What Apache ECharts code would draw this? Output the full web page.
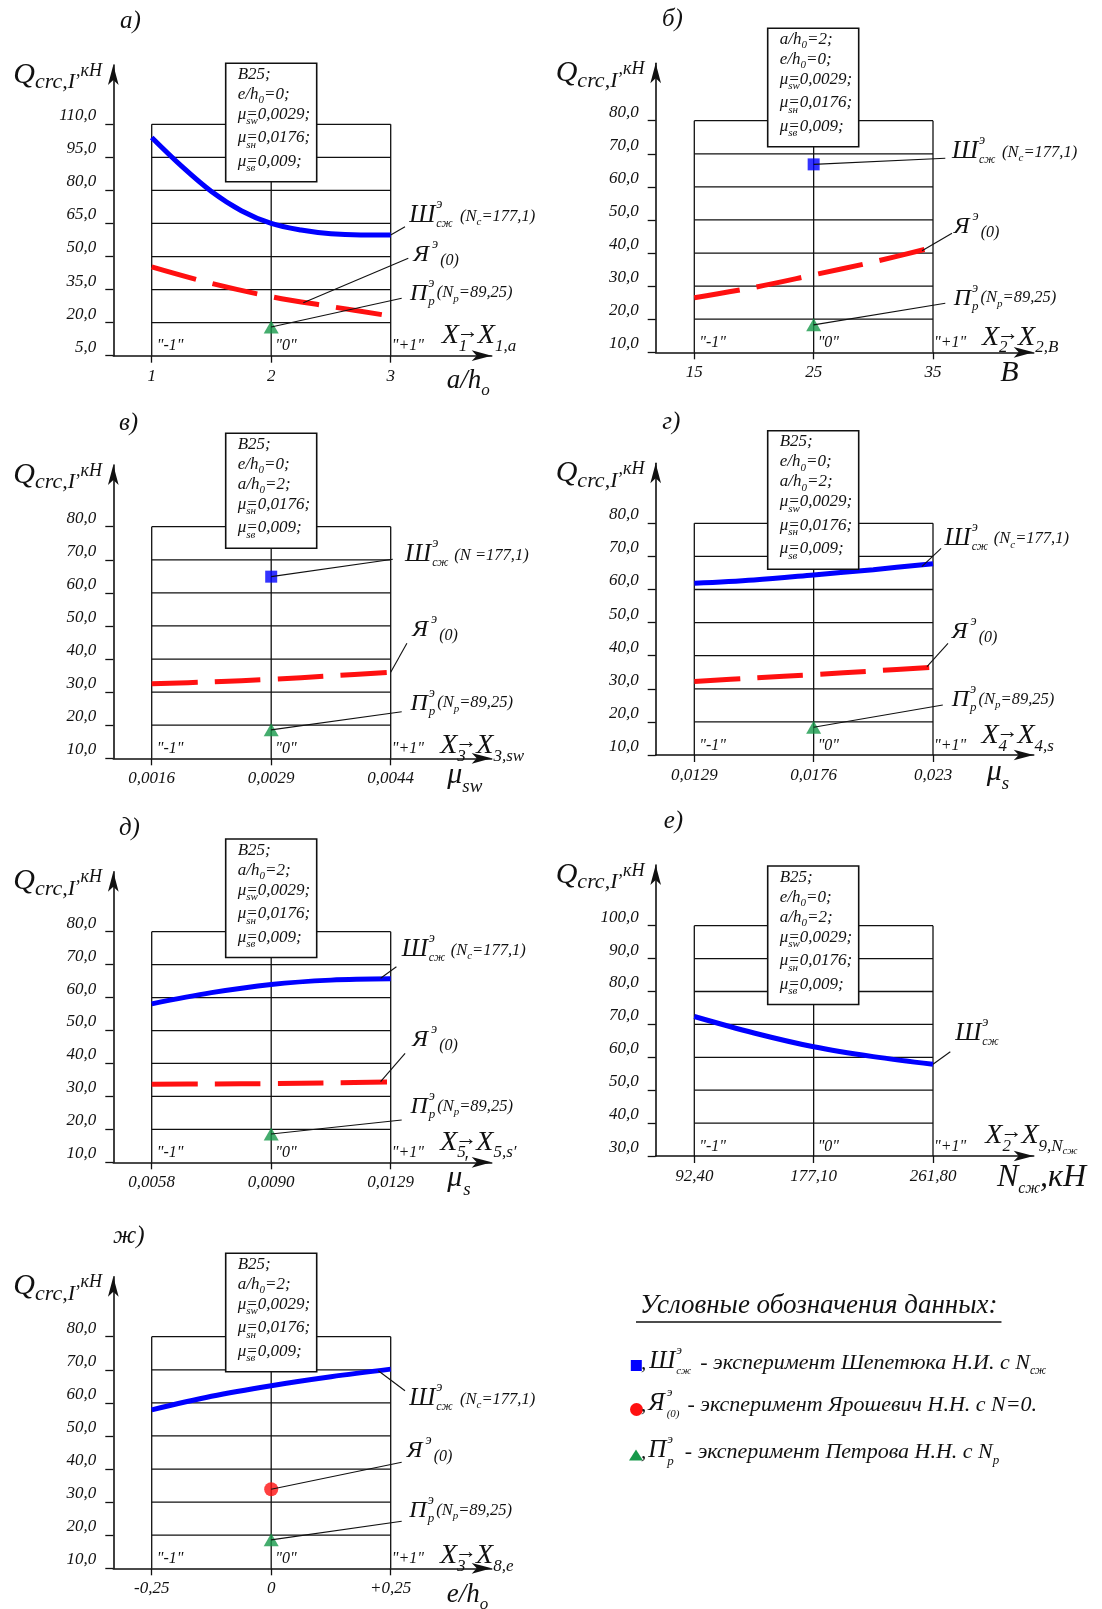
<!DOCTYPE html>
<html>
<head>
<meta charset="utf-8">
<script src="https://cdn.jsdelivr.net/npm/echarts@6/dist/echarts.min.js"></script>
<style>
  html, body { margin: 0; padding: 0; background: #fff; }
  #chart { width: 1102px; height: 1609px; }
</style>
</head>
<body>
<div id="chart"></div>
<script>
// ---- data -------------------------------------------------------------
// coded factor levels "-1", "0", "+1" and the coded positions of the readings
const levels = [-1, 0, 1];
const X5 = [-1, -0.5, 0, 0.5, 1];
const X9 = [-1, -0.75, -0.5, -0.25, 0, 0.25, 0.5, 0.75, 1];

// а) a/h0
const ticksA_x = ['1', '2', '3'];
const ticksA_y = [5, 20, 35, 50, 65, 80, 95, 110];
const shA = [104, 91, 79.5, 70.8, 65, 62, 60.3, 59.8, 59.8];
const yaA = [45.3, 37.8, 31.8, 27.3, 23];
const prA = 18;

// б) B
const ticksB_x = ['15', '25', '35'];
const ticksB_y = [10, 20, 30, 40, 50, 60, 70, 80];
const shB = 66.8;
const yaB = [26.5, 29.6, 33.4, 37.3, 41.7];
const prB = 18.3;

// в) μsw
const ticksC_x = ['0,0016', '0,0029', '0,0044'];
const ticksC_y = [10, 20, 30, 40, 50, 60, 70, 80];
const shC = 64.9;
const yaC = [32.5, 33.1, 33.9, 34.9, 36];
const prC = 18.6;

// г) μs
const ticksD_x = ['0,0129', '0,0176', '0,023'];
const ticksD_y = [10, 20, 30, 40, 50, 60, 70, 80];
const shD = [61.9, 62.9, 64.4, 66.0, 67.8];
const yaD = [32.2, 33.3, 34.3, 35.4, 36.5];
const prD = 18.4;

// д) μ's
const ticksE_x = ['0,0058', '0,0090', '0,0129'];
const ticksE_y = [10, 20, 30, 40, 50, 60, 70, 80];
const shE = [58.1, 61.5, 64, 65.3, 65.7];
const yaE = [33.7, 33.8, 33.9, 34.1, 34.4];
const prE = 18.6;

// е) Nсж
const ticksF_x = ['92,40', '177,10', '261,80'];
const ticksF_y = [30, 40, 50, 60, 70, 80, 90, 100];
const shF = [72.4, 67.4, 63.2, 60.2, 57.9];

// ж) e/h0
const ticksG_x = ['-0,25', '0', '+0,25'];
const ticksG_y = [10, 20, 30, 40, 50, 60, 70, 80];
const shG = [57.9, 62.0, 65.2, 67.9, 70.2];
const yaG = 33.9;
const prG = 18.6;

// fixed parameters listed in each panel's box
const infoA = ['B25', 'e0', 'msw', 'msn', 'msv'];
const infoB = ['a2', 'e0', 'msw', 'msn', 'msv'];
const infoC = ['B25', 'e0', 'a2', 'msn', 'msv'];
const infoD = ['B25', 'e0', 'a2', 'msw', 'msn', 'msv'];
const infoE = ['B25', 'a2', 'msw', 'msn', 'msv'];
const infoF = ['B25', 'e0', 'a2', 'msw', 'msn', 'msv'];
const infoG = ['B25', 'a2', 'msw', 'msn', 'msv'];

// ---- styling ----------------------------------------------------------
const FONT = '"Liberation Serif", "Times New Roman", serif';
const INK = '#111111';
const BLUE = '#0000ff';
const RED = '#ff1010';
const GREEN = '#17994a';
const ARROW = 20;

const infoLine = {
  B25: [['В25;', 17]],
  e0: [['e/h', 17], ['0', 11, 4], ['=0;', 17]],
  a2: [['a/h', 17], ['0', 11, 4], ['=2;', 17]],
  msw: [['μ', 17], ['sw', 11, 5], ['=0,0029;', 17, 0, true]],
  msn: [['μ', 17], ['sн', 11, 5], ['=0,0176;', 17, 0, true]],
  msv: [['μ', 17], ['sв', 11, 5], ['=0,009;', 17, 0, true]]
};

// two columns of panels: y-axis x, "-1" x, "+1" x, arrow tip x
const cols = [
  { axisX: 113.3, lo: 151.7, hi: 390.7, arrowX: 491.7 },
  { axisX: 655.7, lo: 694.3, hi: 933, arrowX: 1033.7 }
];

const panels = [
  { title: 'а)', tpos: [120, 29.5], col: 0, axisY: 355.7, boxTopY: 124.3, arrowTopY: 65, yMin: 5, yTop: 110,
    xt: ticksA_x, yt: ticksA_y, sh: { x: X9, y: shA }, ya: { x: X5, y: yaA }, pr: prA,
    box: [225.7, 63.3, infoA],
    shLab: [409.3, 224, 460, 'c'], yaLab: [413.3, 263.3], prLab: [410, 301.7],
    xname: [441.7, 345, '1', '1,a'],
    unit: [446.7, 390, [['a/h', 27], ['o', 17, 6]]],
    leaders: [['shEnd', [405, 226.7]], [[303.3, 302.7], [408.3, 258.3]], ['pr', [401.7, 298.3]]] },
  { title: 'б)', tpos: [662, 28.3], col: 1, axisY: 352.3, boxTopY: 120.7, arrowTopY: 63.3, yMin: 10, yTop: 80,
    xt: ticksB_x, yt: ticksB_y, sh: shB, ya: { x: X5, y: yaB }, pr: prB,
    box: [767.7, 28.3, infoB],
    shLab: [952, 160, 1002, 'c'], yaLab: [953.7, 235], prLab: [953.7, 306.7],
    xname: [982, 346.7, '2', '2,B'],
    unit: [1000.3, 383.3, [['B', 30]]],
    leaders: [['sh', [945.3, 158.3]], [[922, 250.7], [952, 233.3]], ['pr', [945.3, 303.3]]] },
  { title: 'в)', tpos: [118.9, 432], col: 0, axisY: 758.3, boxTopY: 526.7, arrowTopY: 465, yMin: 10, yTop: 80,
    xt: ticksC_x, yt: ticksC_y, sh: shC, ya: { x: X5, y: yaC }, pr: prC,
    box: [225.7, 433.3, infoC],
    shLab: [405.1, 563.3, 454.3, 'n'], yaLab: [412.2, 638.3], prLab: [410.4, 711.7],
    xname: [440.2, 755, '3', '3,sw'],
    unit: [447.2, 785, [['μ', 30], ['sw', 19, 8]]],
    leaders: [['sh', [392.8, 559.3]], ['yaEnd', [406.9, 643.3]], ['pr', [401.7, 711.7]]] },
  { title: 'г)', tpos: [662.3, 431], col: 1, axisY: 755, boxTopY: 523.3, arrowTopY: 463.3, yMin: 10, yTop: 80,
    xt: ticksD_x, yt: ticksD_y, sh: { x: X5, y: shD }, ya: { x: X5, y: yaD }, pr: prD,
    box: [767.7, 430.7, infoD],
    shLab: [944.6, 546.7, 993.8, 'c'], yaLab: [951.7, 640], prLab: [951.7, 708.3],
    xname: [981.4, 745, '4', '4,s'],
    unit: [986.7, 782, [['μ', 30], ['s', 19, 8]]],
    leaders: [[[921.8, 566.7], [941.1, 548.3]], [[927, 666.7], [948, 643.3]], ['pr', [942.8, 705]]] },
  { title: 'д)', tpos: [118.9, 836.5], col: 0, axisY: 1162.3, boxTopY: 931.7, arrowTopY: 871.7, yMin: 10, yTop: 80,
    xt: ticksE_x, yt: ticksE_y, sh: { x: X5, y: shE }, ya: { x: X5, y: yaE }, pr: prE,
    box: [225.7, 839, infoE],
    shLab: [401.7, 958.3, 450.7, 'c'], yaLab: [412.2, 1048.3], prLab: [410.4, 1115],
    xname: [440.2, 1151.7, '5', '5,s′'],
    unit: [447.2, 1188.3, [['μ', 30], ['′', 20, -17, false, 1], ['s', 19, 8, true]]],
    leaders: [[[380.6, 978.3], [396.4, 966.7]], [[380.6, 1081.7], [405.1, 1053.3]], ['pr', [401.7, 1120]]] },
  { title: 'е)', tpos: [663.7, 830], col: 1, axisY: 1156, boxTopY: 925.7, arrowTopY: 865, yMin: 30, yTop: 100,
    xt: ticksF_x, yt: ticksF_y, sh: { x: X5, y: shF }, ya: null, pr: null,
    box: [767.7, 866, infoF],
    shLab: [955.3, 1041.7, null, null], yaLab: null, prLab: null,
    xname: [985.3, 1145, '2', '9,N', 'сж'],
    unit: [997, 1188.3, [['N', 32], ['сж', 16, 6], [',кН', 32]]],
    leaders: [['shEnd', [950.3, 1051.7]]] },
  { title: 'ж)', tpos: [113, 1245], col: 0, axisY: 1568.3, boxTopY: 1336.7, arrowTopY: 1276.7, yMin: 10, yTop: 80,
    xt: ticksG_x, yt: ticksG_y, sh: { x: X5, y: shG }, ya: yaG, pr: prG,
    box: [225.7, 1253.3, infoG],
    shLab: [409.3, 1407, 460, 'c'], yaLab: [406.7, 1459], prLab: [409.3, 1519],
    xname: [440, 1565, '3', '8,e'],
    unit: [446.7, 1604, [['e/h', 27], ['o', 17, 6]]],
    leaders: [[[378.3, 1370.7], [405, 1390.7]], ['ya', [401.7, 1462.3]], ['pr', [401.7, 1521.3]]] }
];

// ---- text helpers -----------------------------------------------------
const mctx = document.createElement('canvas').getContext('2d');
function tw(t, s) { mctx.font = 'italic ' + s + 'px ' + FONT; return mctx.measureText(t).width; }

// lays out a run of italic pieces on a common baseline; a piece is
// [text, size, baselineShift, stackOnPrevious, dx]
function compose(x, base, parts, color, z) {
  const out = [];
  let start = x, end = x;
  parts.forEach(function (pp) {
    const t = pp[0], s = pp[1], dy = pp[2] || 0, stack = !!pp[3], dx = pp[4] || 0;
    const sx = (stack ? start : end) + dx;
    const w = tw(t, s);
    if (stack) { end = Math.max(end, sx + w); } else { start = sx; end = sx + w; }
    out.push({
      type: 'text', x: sx, y: base + dy - 0.34 * s, z: z || 30, silent: true,
      style: { text: t, font: 'italic ' + s + 'px ' + FONT, fill: color || INK, align: 'left', verticalAlign: 'middle' }
    });
  });
  return out;
}

// ---- chart option -----------------------------------------------------
const option = { animation: false, backgroundColor: '#fff', grid: [], xAxis: [], yAxis: [], series: [] };
const lineStyle = { color: INK, width: 1.6 };
const labelFont = { fontFamily: FONT, fontStyle: 'italic', fontSize: 17, color: INK };

panels.forEach(function (p, i) {
  const c = cols[p.col];
  const unit = (c.hi - c.lo) / 2;
  const right = c.arrowX;                 // the arrow tip sits at the axis end
  const xMin = -1 - (c.lo - c.axisX) / unit;
  const xMax = 1 + (right - c.hi) / unit;
  const top = p.arrowTopY;
  const yMax = p.yMin + (p.yTop - p.yMin) * (p.axisY - top) / (p.axisY - p.boxTopY);

  option.grid.push({ left: c.axisX, top: top, width: right - c.axisX, height: p.axisY - top, containLabel: false });
  option.xAxis.push({
    gridIndex: i, type: 'value', min: xMin, max: xMax, position: 'bottom',
    axisLine: { show: true, onZero: false, lineStyle: lineStyle, symbol: ['none', 'arrow'], symbolSize: [8, ARROW] },
    axisTick: { show: true, customValues: levels, length: 7, inside: false, lineStyle: { color: INK, width: 1.3 } },
    axisLabel: Object.assign({ customValues: levels, margin: 12,
      formatter: function (v) { return p.xt[levels.indexOf(Math.round(v))] || ''; } }, labelFont),
    splitLine: { show: false }
  });
  option.yAxis.push({
    gridIndex: i, type: 'value', min: p.yMin, max: yMax,
    axisLine: { show: true, onZero: false, lineStyle: lineStyle, symbol: ['none', 'arrow'], symbolSize: [8, ARROW] },
    axisTick: { show: true, customValues: p.yt, length: 8, inside: false, lineStyle: { color: INK, width: 1.3 } },
    axisLabel: Object.assign({ customValues: p.yt, margin: 17, verticalAlign: 'bottom',
      formatter: function (v) { return v.toFixed(1).replace('.', ','); } }, labelFont),
    splitLine: { show: false }
  });

  // box of grid lines between the "-1" and "+1" levels
  const segs = [];
  p.yt.filter(function (v) { return v > p.yMin; }).forEach(function (v) { segs.push([-1, v, 1, v]); });
  levels.forEach(function (l) { segs.push([l, p.yMin, l, p.yTop]); });
  option.series.push({
    type: 'custom', xAxisIndex: i, yAxisIndex: i, data: segs, silent: true, z: 1, clip: false,
    encode: { x: [0, 2], y: [1, 3] },
    renderItem: function (params, api) {
      const a = api.coord([api.value(0), api.value(1)]);
      const b = api.coord([api.value(2), api.value(3)]);
      return { type: 'line', shape: { x1: a[0], y1: a[1], x2: b[0], y2: b[1] }, style: { stroke: INK, lineWidth: 1.3 } };
    }
  });

  const pairs = function (s) { return s.x.map(function (x, k) { return [x, s.y[k]]; }); };

  if (p.sh && typeof p.sh === 'object') {
    option.series.push({ type: 'line', name: 'Шсж', xAxisIndex: i, yAxisIndex: i, data: pairs(p.sh), smooth: 0.35,
      symbol: 'none', lineStyle: { color: BLUE, width: 5 }, z: 3, silent: true });
  } else if (p.sh != null) {
    option.series.push({ type: 'scatter', name: 'Шсж', xAxisIndex: i, yAxisIndex: i, data: [[0, p.sh]],
      symbol: 'rect', symbolSize: 12, itemStyle: { color: BLUE }, z: 5, silent: true });
  }
  if (p.ya && typeof p.ya === 'object') {
    option.series.push({ type: 'line', name: 'Я(0)', xAxisIndex: i, yAxisIndex: i, data: pairs(p.ya), smooth: 0.35,
      symbol: 'none', lineStyle: { color: RED, width: 5, type: [46, 17] }, z: 3, silent: true });
  } else if (p.ya != null) {
    option.series.push({ type: 'scatter', name: 'Я(0)', xAxisIndex: i, yAxisIndex: i, data: [[0, p.ya]],
      symbol: 'circle', symbolSize: 14, itemStyle: { color: RED }, z: 5, silent: true });
  }
  if (p.pr != null) {
    option.series.push({ type: 'scatter', name: 'Пр', xAxisIndex: i, yAxisIndex: i, data: [[0, p.pr]],
      symbol: 'triangle', symbolSize: [15, 13], itemStyle: { color: GREEN }, z: 5, silent: true });
  }
});

const chart = echarts.init(document.getElementById('chart'), null, { renderer: 'canvas' });
chart.setOption(option);

// ---- annotations ------------------------------------------------------
const g = [];
panels.forEach(function (p, i) {
  const c = cols[p.col];
  const toPx = function (v) { return chart.convertToPixel({ gridIndex: i }, v); };

  // panel letter
  g.push.apply(g, compose(p.tpos[0], p.tpos[1], [[p.title, 25]]));

  // y axis name Q_crc,I , кН
  g.push.apply(g, compose(c.axisX - 100, p.arrowTopY + 20,
    [['Q', 30], ['crc,I', 22, 5], [',кН', 18, -8, false, 1]]));

  // level marks inside the box
  const tags = ['"-1"', '"0"', '"+1"'];
  const tagDx = [5, 4, 1];
  levels.forEach(function (l, k) {
    const pt = toPx([l, p.yMin]);
    g.push.apply(g, compose(pt[0] + tagDx[k], pt[1] - 4, [[tags[k], 16]]));
  });

  // info box
  const bx = p.box[0], by = p.box[1], lines = p.box[2];
  let base = by + 17;
  const txt = [];
  lines.forEach(function (key, k) {
    txt.push.apply(txt, compose(bx + 12, base, infoLine[key], INK, 31));
    if (k < lines.length - 1) base += (key.charAt(0) === 'm') ? 23.5 : 20;
  });
  g.push({ type: 'rect', shape: { x: bx, y: by, width: 91, height: base + 14.5 - by }, z: 29, silent: true,
    style: { fill: '#fff', stroke: INK, lineWidth: 1.6 } });
  g.push.apply(g, txt);

  // series labels
  if (p.shLab) {
    g.push.apply(g, compose(p.shLab[0], p.shLab[1],
      [['Ш', 25], ['э', 14, -15, false, 1], ['сж', 12, 4, true]]));
    if (p.shLab[3] === 'c') {
      g.push.apply(g, compose(p.shLab[2], p.shLab[1] - 2, [['(N', 16.5], ['c', 11, 4], ['=177,1)', 16.5]]));
    } else if (p.shLab[3] === 'n') {
      g.push.apply(g, compose(p.shLab[2], p.shLab[1] - 2, [['(N =177,1)', 16.5]]));
    }
  }
  if (p.yaLab) {
    g.push.apply(g, compose(p.yaLab[0], p.yaLab[1],
      [['Я', 24], ['э', 14, -14, false, 3], ['(0)', 16, 3, false, 2]]));
  }
  if (p.prLab) {
    g.push.apply(g, compose(p.prLab[0], p.prLab[1],
      [['П', 24], ['э', 14, -14, false, 1], ['p', 13, 4, true], ['(N', 16.5, -3, false, 2], ['p', 11, 1], ['=89,25)', 16.5, -3]]));
  }

  // factor name X_k → X_k,…
  const xn = p.xname;
  const xparts = [['X', 28], [xn[2], 17, 7], ['→', 22, -5, true, -2], ['X', 28, 0, false, -1], [xn[3], 17, 7]];
  if (xn[4]) xparts.push([xn[4], 11, 10]);
  g.push.apply(g, compose(xn[0], xn[1], xparts));

  // axis variable
  g.push.apply(g, compose(p.unit[0], p.unit[1], p.unit[2]));

  // leader lines
  p.leaders.forEach(function (ld) {
    let a = ld[0];
    if (a === 'shEnd') a = toPx([1, p.sh.y[p.sh.y.length - 1]]);
    else if (a === 'yaEnd') a = toPx([1, p.ya.y[p.ya.y.length - 1]]);
    else if (a === 'sh') a = toPx([0, p.sh]);
    else if (a === 'ya') a = toPx([0, p.ya]);
    else if (a === 'pr') a = toPx([0, p.pr]);
    g.push({ type: 'line', z: 6, silent: true, shape: { x1: a[0], y1: a[1], x2: ld[1][0], y2: ld[1][1] },
      style: { stroke: INK, lineWidth: 1.1 } });
  });
});

// ---- key of the data sources -----------------------------------------
const legendTitle = 'Условные обозначения данных:';
g.push.apply(g, compose(640, 1315, [[legendTitle, 27]]));
g.push({ type: 'line', z: 30, silent: true, shape: { x1: 636, y1: 1322, x2: 644 + tw(legendTitle, 27), y2: 1322 },
  style: { stroke: INK, lineWidth: 1.6 } });

g.push({ type: 'rect', z: 30, silent: true, shape: { x: 630.8, y: 1360, width: 11, height: 11 }, style: { fill: BLUE } });
g.push.apply(g, compose(641, 1371, [[',', 21], ['Ш', 25, -1, false, 3], ['э', 13, -16, false, 1], ['сж', 11, 4, true],
  ['- эксперимент Шепетюка Н.И. с N', 22, 0, false, 9], ['сж', 12, 4]]));

g.push({ type: 'circle', z: 30, silent: true, shape: { cx: 636.5, cy: 1409.5, r: 6.5 }, style: { fill: RED } });
g.push.apply(g, compose(641, 1413, [[',', 21], ['Я', 25, -1, false, 2], ['э', 13, -16, false, 2], ['(0)', 11, 5, true],
  ['- эксперимент Ярошевич Н.Н. с N=0.', 22, 0, false, 8]]));

g.push({ type: 'polygon', z: 30, silent: true, shape: { points: [[636, 1449.5], [643, 1460.5], [629, 1460.5]] }, style: { fill: GREEN } });
g.push.apply(g, compose(641, 1460, [[',', 21], ['П', 25, -1, false, 2], ['э', 13, -16, false, 1], ['p', 13, 6, true],
  ['- эксперимент Петрова Н.Н. с N', 22, 0, false, 11], ['p', 13, 5]]));

chart.setOption({ graphic: { elements: g } });
</script>
</body>
</html>
